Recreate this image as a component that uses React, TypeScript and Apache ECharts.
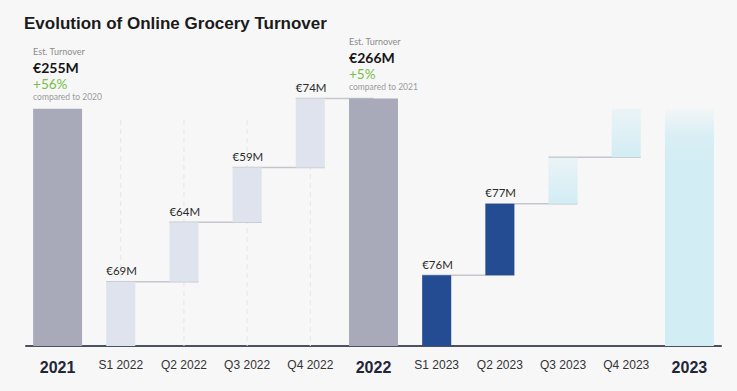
import React, { useEffect, useRef } from 'react';
import * as echarts from 'echarts';

const categories = ['2021', 'S1 2022', 'Q2 2022', 'Q3 2022', 'Q4 2022', '2022', 'S1 2023', 'Q2 2023', 'Q3 2023', 'Q4 2023', '2023'];
const values = [255, 69, 64, 59, 74, 266, 76, 77, 50, 52, 255];
const kinds = ['total', 'past', 'past', 'past', 'past', 'total', 'current', 'current', 'projected', 'projected', 'projectedTotal'];
const stepLabels = ['', '€69M', '€64M', '€59M', '€74M', '', '€76M', '€77M', '', '', ''];
const yearCategories = ['2021', '2022', '2023'];
const annoCategories = ['2021', '2022'];
const annoValues = ['€255M', '€266M'];
const annoGrowth = ['+56%', '+5%'];
const annoCompare = ['compared to 2020', 'compared to 2021'];
const titleText = 'Evolution of Online Grocery Turnover';

const COLORS: Record<string, any> = {
  total: '#a8aab9',
  past: '#dfe3ed',
  current: '#244c93',
  projected: {
    type: 'linear', x: 0, y: 0, x2: 0, y2: 1,
    colorStops: [
      { offset: 0, color: 'rgba(210,237,244,0.35)' },
      { offset: 1, color: 'rgba(210,237,244,1)' },
    ],
  },
  projectedTotal: {
    type: 'linear', x: 0, y: 0, x2: 0, y2: 1,
    colorStops: [
      { offset: 0, color: 'rgba(210,237,244,0.15)' },
      { offset: 0.12, color: 'rgba(210,237,244,0.85)' },
      { offset: 0.22, color: 'rgba(210,237,244,1)' },
      { offset: 1, color: 'rgba(210,237,244,1)' },
    ],
  },
};

const isTotalKind = (k: string) => k === 'total' || k === 'projectedTotal';

export default function App() {
  const ref = useRef<HTMLDivElement>(null);
  useEffect(() => {
    const chart = echarts.init(ref.current!, null, { renderer: 'svg' });
    let run = 0;
    const data = values.map((v, i) => {
      if (isTotalKind(kinds[i])) {
        run = 0;
        return [i, 0, v];
      }
      const start = run;
      run = run + v;
      return [i, start, run];
    });

    const renderItem = (params: any, api: any) => {
      const i = api.value(0);
      const start = api.value(1);
      const end = api.value(2);
      const kind = kinds[i];
      const band = api.size([1, 0])[0];
      const wFor = (k: string) => (isTotalKind(k) ? band * 0.775 : band * 0.46);
      const w = wFor(kind);
      const cx = api.coord([i, 0])[0];
      const yBase = api.coord([i, 0])[1];
      const yTop = api.coord([i, end])[1];
      const yBot = api.coord([i, start])[1];
      const x0 = cx - w / 2;
      const children: any[] = [];

      if (kind === 'past') {
        children.push({
          type: 'line',
          z2: 0,
          shape: { x1: cx, y1: params.coordSys.y + 53, x2: cx, y2: yBase },
          style: { stroke: '#e6e6e6', lineWidth: 1, lineDash: [5, 4] },
        });
      }

      if (!isTotalKind(kind) && i + 1 < kinds.length && kinds[i + 1] !== 'projectedTotal') {
        const nk = kinds[i + 1];
        const ncx = api.coord([i + 1, 0])[0];
        const xEnd = isTotalKind(nk) ? ncx : ncx + wFor(nk) / 2;
        children.push({
          type: 'line',
          z2: 1,
          shape: { x1: x0, y1: yTop, x2: xEnd, y2: yTop },
          style: { stroke: '#c4c6cc', lineWidth: 1.5 },
        });
      }

      children.push({
        type: 'rect',
        z2: 5,
        shape: { x: x0, y: yTop, width: w, height: yBot - yTop },
        style: { fill: COLORS[kind] },
      });

      if (stepLabels[i]) {
        children.push({
          type: 'text',
          z2: 6,
          x: x0,
          y: yTop - 5,
          style: {
            text: stepLabels[i],
            fontFamily: 'Lato',
            fontSize: 11.5,
            fill: '#2b2b2b',
            align: 'left',
            verticalAlign: 'bottom',
          },
        });
      }

      const ai = annoCategories.indexOf(categories[i]);
      if (ai >= 0) {
        const lines = [
          { text: 'Est. Turnover', dy: -57, size: 9, weight: 'normal', color: '#8c8c8c' },
          { text: annoValues[ai], dy: -41, size: 14, weight: 'bold', color: '#151515' },
          { text: annoGrowth[ai], dy: -25, size: 13.5, weight: 'normal', color: '#74bf45' },
          { text: annoCompare[ai], dy: -12, size: 8.5, weight: 'normal', color: '#9b9b9b' },
        ];
        lines.forEach((l) => {
          children.push({
            type: 'text',
            z2: 6,
            x: x0,
            y: yTop + l.dy,
            style: {
              text: l.text,
              fontFamily: 'Lato',
              fontSize: l.size,
              fontWeight: l.weight,
              fill: l.color,
              align: 'left',
              verticalAlign: 'middle',
            },
          });
        });
      }

      return { type: 'group', children };
    };

    chart.setOption({
      animation: false,
      backgroundColor: '#f7f7f7',
      grid: { left: 26, right: 16, top: 67, bottom: 45, containLabel: false },
      graphic: [
        {
          type: 'text',
          left: 24,
          top: 15,
          style: {
            text: titleText,
            fontFamily: 'Liberation Sans',
            fontWeight: 'bold',
            fontSize: 17,
            fill: '#1b1b1b',
          },
        },
      ],
      xAxis: {
        type: 'category',
        data: categories,
        boundaryGap: true,
        axisLine: { lineStyle: { color: '#4b5161', width: 2 } },
        axisTick: { show: false },
        splitLine: { show: false },
        axisLabel: {
          interval: 0,
          margin: 13,
          formatter: (v: string) => (yearCategories.includes(v) ? `{y|${v}}` : `{q|${v}}`),
          rich: {
            y: { fontFamily: 'Liberation Sans', fontWeight: 'bold', fontSize: 16, color: '#1f2638' },
            q: { fontFamily: 'Liberation Sans', fontSize: 12, color: '#333333' },
          },
        },
      },
      yAxis: {
        type: 'value',
        min: 0,
        max: 300,
        show: false,
        splitLine: { show: false },
      },
      series: [
        {
          type: 'custom',
          renderItem,
          data,
          encode: { x: 0, y: [1, 2] },
          clip: false,
        },
      ],
    });
    return () => chart.dispose();
  }, []);

  return (
    <div
      ref={ref}
      style={{ position: 'fixed', left: 0, top: 0, width: 737, height: 391, background: '#f7f7f7' }}
    />
  );
}
